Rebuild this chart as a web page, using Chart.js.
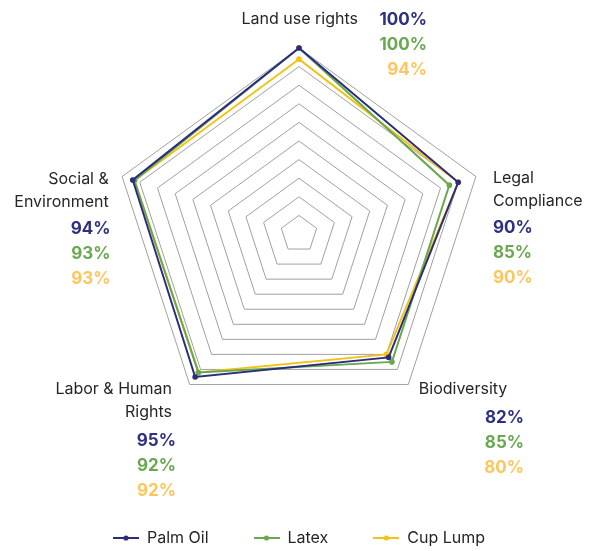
<!DOCTYPE html>
<html>
<head>
<meta charset="utf-8">
<script src="https://cdn.jsdelivr.net/npm/chart.js@4.4.1/dist/chart.umd.min.js"></script>
<style>
  html, body { margin: 0; padding: 0; background: #ffffff; }
  #wrap { width: 590px; height: 551px; }
</style>
</head>
<body>
<div id="wrap"><canvas id="radar" width="590" height="551"></canvas></div>
<script>
// Axis categories (each entry holds the lines of its caption)
const categories = [
  ['Land use rights'],
  ['Legal', 'Compliance'],
  ['Biodiversity'],
  ['Labor & Human', 'Rights'],
  ['Social &', 'Environment']
];

// Series values, in percent, one per category
const seriesNames = ['Palm Oil', 'Latex', 'Cup Lump'];
const palmOil = [100, 90, 82, 95, 94];
const latex   = [100, 85, 85, 92, 93];
const cupLump = [94, 90, 80, 92, 93];

// Radial scale range and ring step
const scaleMin = 0;
const scaleMax = 100;
const scaleStep = 10;

// Styling
const lineColors = ['#2b2d7c', '#6aa84f', '#f2c317'];
const valueColors = ['#2e3082', '#6aa84f', '#fdc55e'];
const textFont = 'Inter, "Liberation Sans", Arial, sans-serif';
const RADAR_RADIUS = 186;

// Caption placement relative to each outer vertex
const captionLayout = [
  { nameAlign: 'right', nameX: 59,    nameY: -24,  valAlign: 'right', valX: 128,   valY: -23 },
  { nameAlign: 'left',  nameX: 17,    nameY: 6.5,  valAlign: 'left',  valX: 17,    valY: 56 },
  { nameAlign: 'left',  nameX: 10.5,  nameY: 9.6,  valAlign: 'right', valX: 115.7, valY: 38.6 },
  { nameAlign: 'right', nameX: -17.7, nameY: 9.6,  valAlign: 'right', valX: -13.7, valY: 61.3 },
  { nameAlign: 'right', nameX: -13.3, nameY: 7.1,  valAlign: 'right', valX: -11.6, valY: 57.1 }
];
const NAME_LINE = 23;
const VALUE_LINE = 25;

const seriesValues = [palmOil, latex, cupLump];

// Legend glyph: short line with a dot in the middle
function legendGlyph(color) {
  const c = document.createElement('canvas');
  c.width = 26; c.height = 8;
  const g = c.getContext('2d');
  g.strokeStyle = color;
  g.lineWidth = 2;
  g.beginPath(); g.moveTo(0, 4); g.lineTo(26, 4); g.stroke();
  g.fillStyle = color;
  g.beginPath(); g.arc(13, 4, 2.6, 0, Math.PI * 2); g.fill();
  return c;
}
const glyphs = lineColors.map(legendGlyph);

// Captions with per-series percentages around the web
const captionPlugin = {
  id: 'axisCaptions',
  afterDatasetsDraw(chart) {
    const scale = chart.scales.r;
    const ctx = chart.ctx;
    ctx.save();
    ctx.textBaseline = 'alphabetic';
    categories.forEach((lines, i) => {
      const v = scale.getPointPosition(i, scale.drawingArea);
      const L = captionLayout[i];
      ctx.font = '16px ' + textFont;
      ctx.fillStyle = '#262626';
      ctx.textAlign = L.nameAlign;
      lines.forEach((ln, k) => {
        ctx.fillText(ln, v.x + L.nameX, v.y + L.nameY + k * NAME_LINE);
      });
      ctx.font = 'bold 17px ' + textFont;
      ctx.textAlign = L.valAlign;
      seriesValues.forEach((vals, s) => {
        ctx.fillStyle = valueColors[s];
        ctx.fillText(vals[i] + '%', v.x + L.valX, v.y + L.valY + s * VALUE_LINE);
      });
    });
    ctx.restore();
  }
};

new Chart(document.getElementById('radar'), {
  type: 'radar',
  data: {
    labels: categories,
    datasets: seriesNames.map((name, s) => ({
      label: name,
      data: seriesValues[s],
      borderColor: lineColors[s],
      backgroundColor: lineColors[s],
      pointBackgroundColor: lineColors[s],
      pointBorderColor: lineColors[s],
      borderWidth: 2,
      pointRadius: 2.8,
      pointBorderWidth: 0,
      fill: false,
      tension: 0
    }))
  },
  options: {
    responsive: false,
    animation: false,
    devicePixelRatio: 1,
    layout: { padding: { top: 48, left: 8, right: 0, bottom: -5 } },
    scales: {
      r: {
        min: scaleMin,
        max: scaleMax,
        ticks: { stepSize: scaleStep, display: false },
        grid: { color: '#a0a0a0', lineWidth: 1 },
        angleLines: { display: false },
        pointLabels: { display: false },
        afterFit(scale) {
          scale.drawingArea = RADAR_RADIUS;
          scale.yCenter = scale.top + RADAR_RADIUS;
        }
      }
    },
    plugins: {
      tooltip: { enabled: false },
      legend: {
        position: 'bottom',
        labels: {
          usePointStyle: true,
          pointStyleWidth: 26,
          padding: 45,
          color: '#262626',
          font: { family: textFont, size: 16 },
          generateLabels(chart) {
            const items = Chart.defaults.plugins.legend.labels.generateLabels(chart);
            items.forEach((it, i) => { it.pointStyle = glyphs[i]; });
            return items;
          }
        }
      }
    }
  },
  plugins: [captionPlugin]
});
</script>
</body>
</html>
